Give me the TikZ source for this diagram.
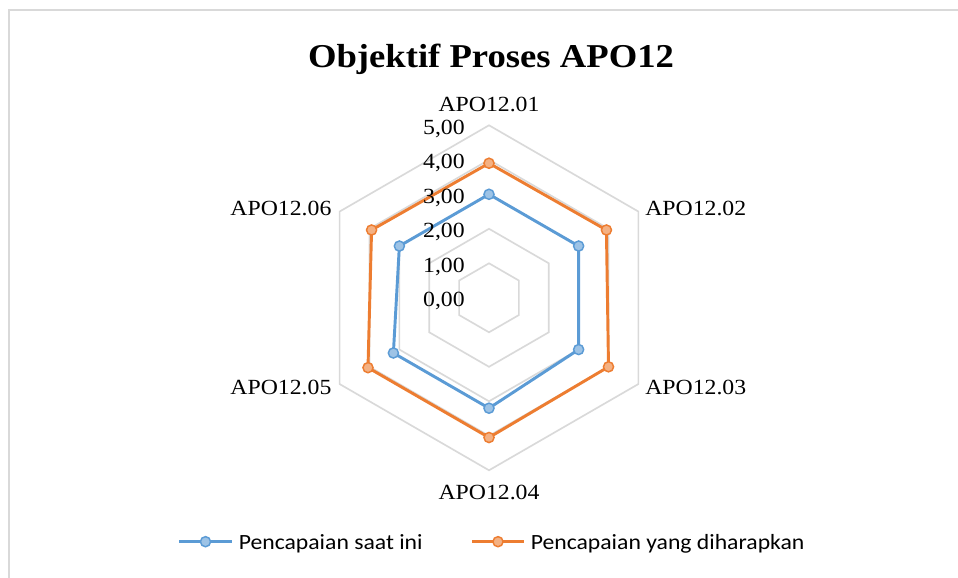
\documentclass[tikz,border=0pt]{standalone}
\usepackage{fontspec}
\setmainfont{Liberation Serif}[FakeStretch=1.1]
\newfontfamily\legendfont{Carlito}[FakeStretch=1.09]
\usetikzlibrary{positioning,calc}
\definecolor{gridgray}{HTML}{D9D9D9}
\definecolor{nowblue}{HTML}{5B9BD5}
\definecolor{nowbluefill}{HTML}{9DC3E6}
\definecolor{aimorange}{HTML}{ED7D31}
\definecolor{aimorangefill}{HTML}{F4B183}

\tikzset{
  ring/.style={draw=gridgray, line width=1.25pt},
  series/.style={line width=2.2pt, line join=round},
  dot/.style={circle, line width=1.1pt, minimum size=7.6pt, inner sep=0pt},
  axislabel/.style={font=\fontsize{16.2}{18}\selectfont, inner sep=0pt},
  ticklabel/.style={font=\fontsize{16.2}{18}\selectfont, inner sep=0pt, anchor=base east},
}

\begin{document}
\begin{tikzpicture}[x=0.75pt, y=0.75pt]
    \useasboundingbox (0,0) rectangle (958,578);
    \draw[gridgray, line width=1.5pt] (9,0) -- (9,568) -- (958,568); % chart frame
    \node[font=\bfseries\fontsize{25}{28}\selectfont, inner sep=0pt, anchor=base] (title) at (491,510.3) {Objektif Proses APO12};

    \begin{scope}[shift={(489,280.2)}]
    % the web
    \foreach \r in {1,...,5}
    \draw[ring] (90:\r*34.5) -- (30:\r*34.5) -- (-30:\r*34.5) -- (-90:\r*34.5) -- (-150:\r*34.5) -- (150:\r*34.5) -- cycle;
    % current values
    \foreach \v [count=\i] in {3,3,3,3.2,3.2,3}
    \coordinate (now\i) at ({150-\i*60}:\v*34.5);
    % expected values
    \foreach \v [count=\i] in {3.9,3.93,4.0,4.05,4.05,3.93}
    \coordinate (aim\i) at ({150-\i*60}:\v*34.5);
    \draw[series, nowblue] (now1) -- (now2) -- (now3) -- (now4) -- (now5) -- (now6) -- cycle;
    \foreach \i in {1,...,6}
    \node[dot, draw=nowblue, fill=nowbluefill] (nowdot\i) at (now\i) {};
    \draw[series, aimorange] (aim1) -- (aim2) -- (aim3) -- (aim4) -- (aim5) -- (aim6) -- cycle;
    \foreach \i in {1,...,6}
    \node[dot, draw=aimorange, fill=aimorangefill] (aimdot\i) at (aim\i) {};
    \end{scope}

    % scale labels
    \foreach \t in {0,...,5}
    \node[ticklabel] (tick\t) at (465,271.3+\t*34.5) {\t,00};

    % axis labels
    \node[axislabel, anchor=base] (apo1) at (489,466.3) {APO12.01};
    \node[axislabel, anchor=base west] (apo2) at (645,362) {APO12.02};
    \node[axislabel, anchor=base west] (apo3) at (645,183) {APO12.03};
    \node[axislabel, anchor=base] (apo4) at (489,78) {APO12.04};
    \node[axislabel, anchor=base east] (apo5) at (331.7,183) {APO12.05};
    \node[axislabel, anchor=base east] (apo6) at (331.7,362) {APO12.06};

    % legend
    \coordinate (keynowa) at (179,36.3);
    \coordinate (keynowb) at (232,36.3);
    \draw[series, nowblue] (keynowa) -- (keynowb);
    \node[dot, draw=nowblue, fill=nowbluefill] (keynowdot) at ($(keynowa)!0.5!(keynowb)$) {};
    \node[font=\legendfont\fontsize{16.3}{18}\selectfont, inner sep=0pt, anchor=base west] (keynow) at (238.5,28) {Pencapaian saat ini};
    \coordinate (keyaima) at (472,36.3);
    \coordinate (keyaimb) at (524,36.3);
    \draw[series, aimorange] (keyaima) -- (keyaimb);
    \node[dot, draw=aimorange, fill=aimorangefill] (keyaimdot) at ($(keyaima)!0.5!(keyaimb)$) {};
    \node[font=\legendfont\fontsize{16.3}{18}\selectfont, inner sep=0pt, anchor=base west] (keyaim) at (530.5,28) {Pencapaian yang diharapkan};
\end{tikzpicture}
\end{document}
